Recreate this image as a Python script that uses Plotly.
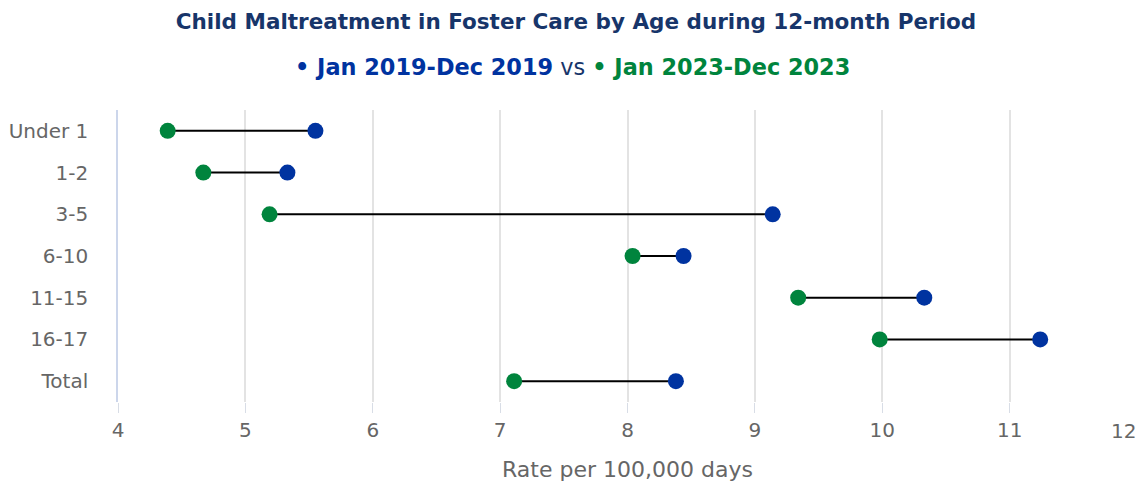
import plotly.graph_objects as go

categories = ["Under 1", "1-2", "3-5", "6-10", "11-15", "16-17", "Total"]
rate_2019 = [5.55, 5.33, 9.14, 8.44, 10.33, 11.24, 8.38]
rate_2023 = [4.39, 4.67, 5.19, 8.04, 9.34, 9.98, 7.11]
x_ticks = [4, 5, 6, 7, 8, 9, 10, 11, 12]

BLUE = "#0033a0"
GREEN = "#00843d"
NAVY = "#17356a"
GREY = "#666666"
FONT = "DejaVu Sans"

W, H = 1136, 474
ML, MR, MT, MB = 110, 7, 102, 80

line_x, line_y = [], []
for c, a, b in zip(categories, rate_2023, rate_2019):
    line_x += [a, b, None]
    line_y += [c, c, None]

fig = go.Figure()
fig.add_trace(go.Scatter(x=line_x, y=line_y, mode="lines",
                         line=dict(color="black", width=2), hoverinfo="skip",
                         showlegend=False))
fig.add_trace(go.Scatter(x=rate_2023, y=categories, mode="markers",
                         marker=dict(color=GREEN, size=16), name="Jan 2023-Dec 2023",
                         showlegend=False))
fig.add_trace(go.Scatter(x=rate_2019, y=categories, mode="markers",
                         marker=dict(color=BLUE, size=16), name="Jan 2019-Dec 2019",
                         showlegend=False))
# invisible helper trace so the overlay axis (edge label) is drawn
fig.add_trace(go.Scatter(x=[x_ticks[-1]], y=[categories[0]], mode="markers",
                         marker=dict(opacity=0), xaxis="x2", hoverinfo="skip",
                         showlegend=False))

plot_h = H - MT - MB
plot_w = W - ML - MR
center_paper = (564 - ML) / plot_w

tick_text = [str(t) for t in x_ticks[:-1]] + [""]

fig.update_layout(
    width=W, height=H,
    margin=dict(l=ML, r=MR, t=MT, b=MB, autoexpand=False),
    paper_bgcolor="white", plot_bgcolor="white",
    font=dict(family=FONT, color=GREY, size=18),
    title=dict(
        text="<b>Child Maltreatment in Foster Care by Age during 12-month Period</b>",
        x=0.5, xref="container", xanchor="center", y=1 - 13 / H, yanchor="middle",
        font=dict(family=FONT, size=21.5, color=NAVY),
    ),
    annotations=[dict(
        text=f"<span style='color:{BLUE}'><b>• Jan 2019-Dec 2019</b></span>"
             f"<span style='color:{NAVY}'> vs </span>"
             f"<span style='color:{GREEN}'><b>• Jan 2023-Dec 2023</b></span>",
        x=center_paper, xref="paper", xanchor="center",
        y=1 + (MT - 59) / plot_h, yref="paper", yanchor="middle", showarrow=False,
        font=dict(family=FONT, size=22.4),
    )],
    xaxis=dict(
        range=[4, 12], tickvals=x_ticks, ticktext=tick_text,
        automargin=False,
        showgrid=True, gridcolor="#e3e3e3", gridwidth=1.5,
        zeroline=False, showline=False,
        ticks="outside", ticklen=10, tickcolor="#d8dde6", tickwidth=1,
        tickfont=dict(size=20, color=GREY),
        title=dict(text="Rate per 100,000 days", font=dict(size=22, color=GREY), standoff=20),
    ),
    xaxis2=dict(
        overlaying="x", side="bottom", range=[4, 12],
        tickvals=[x_ticks[-1]], ticktext=[str(x_ticks[-1])],
        ticklabelposition="outside left", ticklabeloverflow="allow",
        ticklabelstandoff=11,
        automargin=False, showgrid=False, zeroline=False, showline=False,
        ticks="outside", ticklen=10, tickcolor="#d8dde6", tickwidth=1,
        tickfont=dict(size=20, color=GREY),
    ),
    yaxis=dict(
        categoryorder="array", categoryarray=categories,
        range=[len(categories) - 0.5, -0.5], automargin=False,
        showgrid=False, zeroline=False,
        showline=True, linecolor="#ccd6eb", linewidth=1.5,
        ticks="", ticklabelstandoff=24,
        tickfont=dict(size=20, color=GREY),
    ),
)

fig.write_html("out.html")
